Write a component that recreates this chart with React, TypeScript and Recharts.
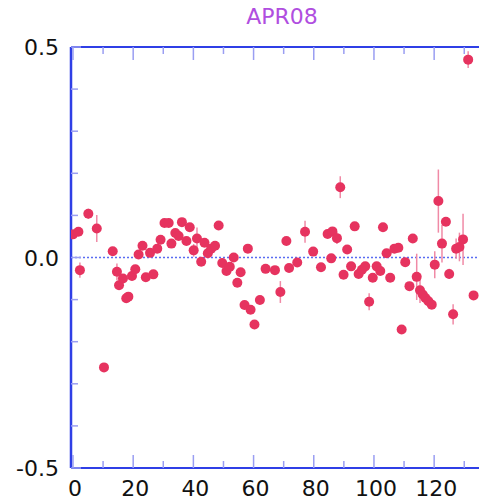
import React from 'react';
import {
  ScatterChart,
  Scatter,
  XAxis,
  YAxis,
  ErrorBar,
  ReferenceLine,
} from 'recharts';

const xs = [
  0.0, 1.8, 2.3, 5.1, 7.9, 10.3, 13.2, 14.6, 15.3, 16.6, 17.7, 18.4, 19.6, 20.7, 21.8, 23.1, 24.2,
  25.6, 26.7, 28.0, 29.1, 30.4, 31.8, 32.7, 34.0, 35.1, 36.2, 37.7, 38.8, 40.1, 41.2, 42.6, 43.7,
  44.8, 45.9, 47.2, 48.4, 49.6, 51.0, 52.1, 53.4, 54.6, 55.7, 57.0, 58.1, 59.0, 60.3, 62.1, 64.0,
  67.1, 68.9, 70.9, 71.8, 74.5, 77.1, 79.8, 82.4, 84.6, 85.8, 86.2, 87.7, 88.8, 89.9, 91.1, 92.4,
  93.6, 94.9, 96.0, 97.1, 98.4, 99.6, 100.9, 102.1, 103.0, 104.2, 105.4, 106.8, 108.1, 109.2,
  110.4, 111.8, 112.9, 114.2, 115.3, 116.2, 117.1, 118.1, 119.2, 120.2, 121.4, 122.6, 123.9,
  125.0, 126.3, 127.3, 128.4, 129.6, 131.3, 133.1,
];

const ys = [
  0.055, 0.061, -0.03, 0.104, 0.069, -0.261, 0.015, -0.034, -0.066, -0.05, -0.097, -0.093, -0.044,
  -0.028, 0.007, 0.028, -0.047, 0.011, -0.04, 0.021, 0.042, 0.082, 0.082, 0.033, 0.058, 0.051,
  0.084, 0.039, 0.072, 0.017, 0.045, -0.01, 0.035, 0.01, 0.021, 0.028, 0.076, -0.013, -0.032,
  -0.022, 0.0, -0.06, -0.035, -0.113, 0.021, -0.124, -0.159, -0.101, -0.027, -0.03, -0.082, 0.039,
  -0.025, -0.012, 0.061, 0.014, -0.023, 0.056, -0.002, 0.062, 0.046, 0.167, -0.041, 0.019, -0.021,
  0.074, -0.039, -0.029, -0.021, -0.105, -0.048, -0.021, -0.032, 0.072, 0.01, -0.048, 0.021, 0.023,
  -0.171, -0.011, -0.068, 0.045, -0.046, -0.078, -0.088, -0.096, -0.104, -0.112, -0.017, 0.134,
  0.033, 0.085, -0.039, -0.135, 0.021, 0.025, 0.043, 0.47, -0.09,
];

const errs = [
  0.01, 0.01, 0.018, 0.012, 0.032, 0.01, 0.01, 0.02, 0.01, 0.01, 0.01, 0.01, 0.01, 0.01, 0.01,
  0.01, 0.01, 0.01, 0.01, 0.01, 0.01, 0.01, 0.01, 0.01, 0.01, 0.01, 0.01, 0.01, 0.01, 0.015, 0.026,
  0.01, 0.01, 0.01, 0.01, 0.01, 0.01, 0.01, 0.01, 0.01, 0.01, 0.01, 0.01, 0.01, 0.01, 0.01, 0.01,
  0.01, 0.01, 0.01, 0.026, 0.01, 0.01, 0.01, 0.026, 0.01, 0.01, 0.01, 0.01, 0.01, 0.014, 0.026,
  0.01, 0.01, 0.01, 0.01, 0.01, 0.01, 0.01, 0.02, 0.01, 0.01, 0.01, 0.01, 0.01, 0.01, 0.01, 0.01,
  0.01, 0.01, 0.01, 0.01, 0.055, 0.03, 0.01, 0.01, 0.01, 0.01, 0.032, 0.075, 0.045, 0.01, 0.012,
  0.024, 0.024, 0.034, 0.061, 0.02, 0.01,
];

const xTicks = [0, 10, 20, 30, 40, 50, 60, 70, 80, 90, 100, 110, 120, 130];
const yTicks = [-0.5, -0.4, -0.3, -0.2, -0.1, 0, 0.1, 0.2, 0.3, 0.4, 0.5];
const yLabels: Record<string, string> = { '-0.5': '-0.5', '0': '0.0', '0.5': '0.5' };

const data = xs.map((x, i) => ({ x, y: ys[i], err: errs[i] }));

const FONT = '"DejaVu Sans", sans-serif';
const AXIS = '#2f3fe6';
const TICK = '#9a9ef2';
const DOT = '#e6335f';

const BottomTick = (props: any) => {
  const { x, y, payload } = props;
  const v = payload.value;
  const major = v % 20 === 0;
  return (
    <g>
      <line x1={x} x2={x} y1={y} y2={y - (major ? 13 : 7)} stroke={TICK} strokeWidth={1.5} />
      {major && (
        <text x={x + 2} y={y + 28} textAnchor="middle" fontSize={22} fontFamily={FONT} fill="#111">
          {v}
        </text>
      )}
    </g>
  );
};

const TopTick = (props: any) => {
  const { x, y, payload } = props;
  const major = payload.value % 20 === 0;
  return <line x1={x} x2={x} y1={y} y2={y + (major ? 13 : 7)} stroke={TICK} strokeWidth={1.5} />;
};

const LeftTick = (props: any) => {
  const { x, y, payload } = props;
  const label = yLabels[String(payload.value)];
  return (
    <g>
      <line x1={x} x2={x + (label ? 10 : 7)} y1={y} y2={y} stroke={TICK} strokeWidth={1.5} />
      {label && (
        <text x={x - 12} y={y + 8} textAnchor="end" fontSize={22} fontFamily={FONT} fill="#111">
          {label}
        </text>
      )}
    </g>
  );
};

const Dot = (props: any) => <circle cx={props.cx} cy={props.cy} r={5} fill={DOT} />;

export default function App() {
  return (
    <div style={{ position: 'absolute', left: 0, top: 0, width: 479, height: 502, background: '#fff' }}>
      <div
        style={{
          position: 'absolute',
          left: 0,
          width: 564,
          top: 4,
          textAlign: 'center',
          fontFamily: FONT,
          fontSize: 22,
          color: '#b04ee0',
        }}
      >
        APR08
      </div>
      <ScatterChart width={479} height={502} margin={{ top: 0, right: 0, bottom: 0, left: 0 }}>
        <XAxis
          xAxisId="top"
          orientation="top"
          type="number"
          dataKey="x"
          domain={[-0.66, 134.9]}
          ticks={xTicks}
          interval={0}
          height={47}
          tickSize={0}
          tickMargin={0}
          tick={<TopTick />}
          axisLine={{ stroke: AXIS, strokeWidth: 2 }}
          allowDataOverflow
        />
        <XAxis
          type="number"
          dataKey="x"
          domain={[-0.66, 134.9]}
          ticks={xTicks}
          interval={0}
          height={34}
          tickSize={0}
          tickMargin={0}
          tick={<BottomTick />}
          axisLine={{ stroke: AXIS, strokeWidth: 2 }}
          allowDataOverflow
        />
        <YAxis
          type="number"
          dataKey="y"
          domain={[-0.5, 0.5]}
          ticks={yTicks}
          interval={0}
          width={71}
          tickSize={0}
          tickMargin={0}
          tick={<LeftTick />}
          axisLine={{ stroke: AXIS, strokeWidth: 2.5 }}
          allowDataOverflow
        />
        <ReferenceLine y={0} stroke="#5a6cf2" strokeDasharray="2 2" strokeWidth={1.5} />
        <Scatter data={data} shape={<Dot />} isAnimationActive={false}>
          <ErrorBar dataKey="err" direction="y" width={0} stroke="#f08aa6" strokeWidth={1.5} />
        </Scatter>
        <Scatter xAxisId="top" data={data} shape={() => null} isAnimationActive={false} />
      </ScatterChart>
    </div>
  );
}
